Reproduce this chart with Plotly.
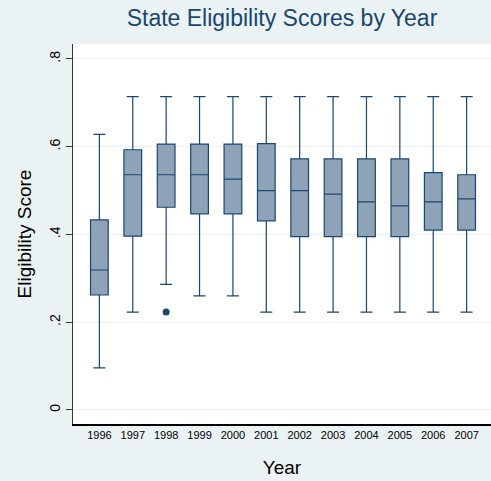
import plotly.graph_objects as go

# Summary statistics of state eligibility scores per year
years = [1996, 1997, 1998, 1999, 2000, 2001, 2002, 2003, 2004, 2005, 2006, 2007]
lower_whisker = [0.096, 0.223, 0.286, 0.260, 0.260, 0.223, 0.223, 0.223, 0.223, 0.223, 0.223, 0.223]
q1 = [0.262, 0.396, 0.462, 0.447, 0.447, 0.431, 0.395, 0.395, 0.395, 0.395, 0.410, 0.410]
median = [0.319, 0.536, 0.536, 0.536, 0.526, 0.500, 0.500, 0.492, 0.474, 0.465, 0.474, 0.481]
q3 = [0.433, 0.593, 0.606, 0.606, 0.606, 0.607, 0.572, 0.572, 0.572, 0.572, 0.541, 0.536]
upper_whisker = [0.628, 0.714, 0.714, 0.714, 0.714, 0.714, 0.714, 0.714, 0.714, 0.714, 0.714, 0.714]

outlier_years = [1998]
outlier_values = [0.223]

y_tick_vals = [0, 0.2, 0.4, 0.6, 0.8]
y_tick_text = ["0", ".2", ".4", ".6", ".8"]

navy = "#1a476f"
box_fill = "#8fa3b8"
bg = "#eaf2f3"

fig = go.Figure()
fig.add_trace(go.Box(
    x=years,
    q1=q1,
    median=median,
    q3=q3,
    lowerfence=lower_whisker,
    upperfence=upper_whisker,
    width=0.53,
    whiskerwidth=0.68,
    fillcolor=box_fill,
    line=dict(color=navy, width=1.2),
    boxpoints=False,
    showlegend=False,
    hoverinfo="skip",
))
fig.add_trace(go.Scatter(
    x=outlier_years,
    y=outlier_values,
    mode="markers",
    marker=dict(color=navy, size=7),
    showlegend=False,
    hoverinfo="skip",
))

fig.update_layout(
    width=491,
    height=481,
    margin=dict(l=73, r=0, t=44, b=57),
    paper_bgcolor=bg,
    plot_bgcolor="white",
    font=dict(family="Liberation Sans, Arial, sans-serif", color="black"),
    title=dict(
        text="State Eligibility Scores by Year",
        x=(73 + 491) / 2 / 491,
        xanchor="center",
        y=1 - 18 / 481,
        yanchor="middle",
        font=dict(size=23, color=navy),
    ),
)

fig.update_xaxes(
    range=[1995.21, 2007.73],
    tickvals=years,
    ticktext=[str(y) for y in years],
    tickfont=dict(size=11, color="black"),
    ticks="",
    showgrid=False,
    zeroline=False,
    showline=True,
    linecolor="black",
    linewidth=1.5,
    title=dict(text="Year", font=dict(size=19, color="black"), standoff=21),
)

fig.update_yaxes(
    range=[-0.032, 0.834],
    tickvals=y_tick_vals,
    ticktext=y_tick_text,
    tickangle=-90,
    tickfont=dict(size=14, color="black"),
    ticks="outside",
    ticklen=6,
    tickcolor="#333333",
    showgrid=True,
    gridcolor=bg,
    gridwidth=1,
    zeroline=False,
    showline=True,
    linecolor="#333333",
    linewidth=1,
    title=dict(text="Eligibility Score", font=dict(size=19, color="black"), standoff=10),
)

fig.write_html("out.html")
